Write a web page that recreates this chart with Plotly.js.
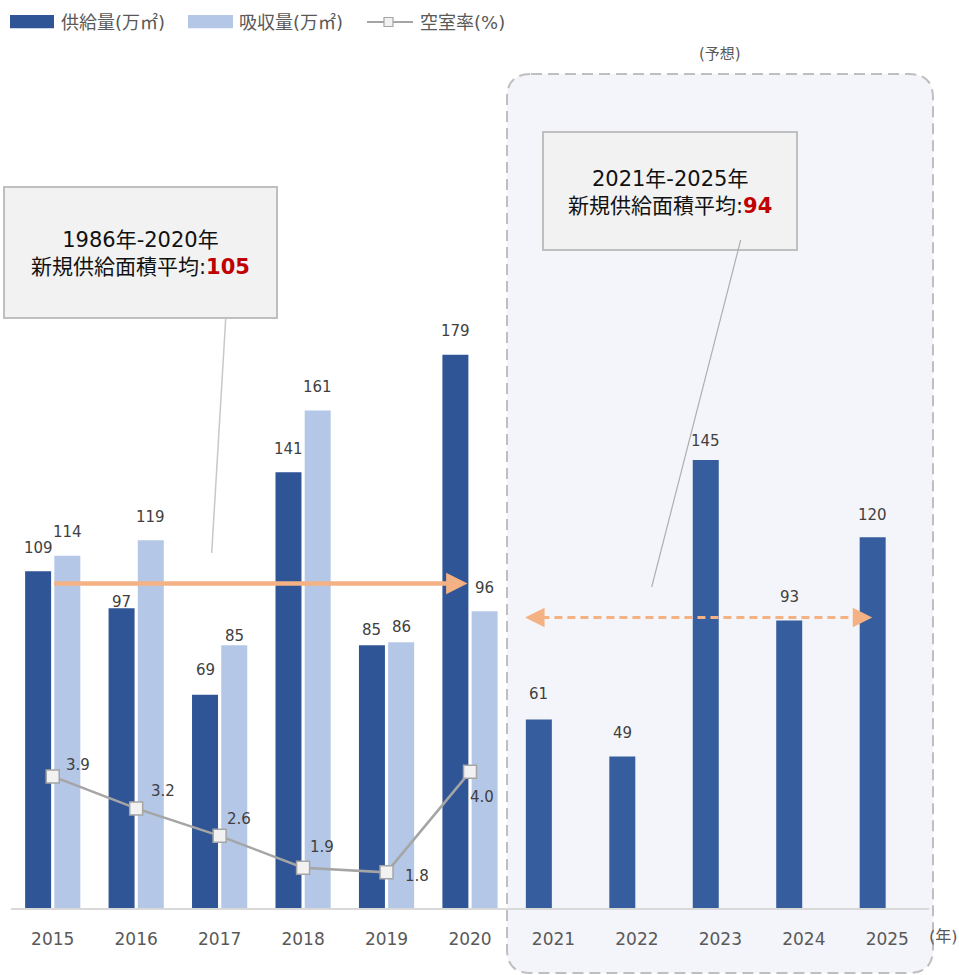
<!DOCTYPE html>
<html>
<head>
<meta charset="utf-8">
<script src="https://cdn.plot.ly/plotly-3.0.1.min.js"></script>
<style>html,body{margin:0;padding:0;background:#fff;}#chart{width:959px;height:975px;}</style>
</head>
<body>
<div id="chart"></div>
<script>
// ---- data ----
const years = ['2015','2016','2017','2018','2019','2020','2021','2022','2023','2024','2025'];
const supply = [109, 97, 69, 141, 85, 179, 61, 49, 145, 93, 120];
const absorption = [114, 119, 85, 161, 86, 96, null, null, null, null, null];
const vacancyYears = ['2015','2016','2017','2018','2019','2020'];
const vacancy = [3.9, 3.2, 2.6, 1.9, 1.8, 4.0];
const avgPast = 105;
const avgFuture = 94;
const legendLabels = ['供給量(万㎡)', '吸収量(万㎡)', '空室率(%)'];
const calloutPast = ['1986年-2020年', '新規供給面積平均:', '105'];
const calloutFuture = ['2021年-2025年', '新規供給面積平均:', '94'];

// ---- styling / layout helpers ----
const FONT = "'DejaVu Sans', 'Noto Sans CJK JP', sans-serif";
const W = 959, H = 975;
const L = 11, R = 929, T = 60, B = 908;
const fx = px => (px - L) / (R - L);
const fy = py => (B - py) / (B - T);
const idx = years.map((_, i) => i);
const vIdx = vacancyYears.map(y => years.indexOf(y));
const pastCount = 6;
const supplyColors = supply.map((_, i) => i < pastCount ? '#2F5597' : '#365D9D');
// label placement offsets (pixels above bar top)
const supplyLabelLift = [23, 6, 25, 23, 15, 24, 25, 24, 19, 24, 22];
const absorptionLabelLift = [24, 23, 9, 23, 15, 23];

const traces = [
  {type: 'bar', name: legendLabels[0], x: idx, y: supply, marker: {color: supplyColors}, hoverinfo: 'skip'},
  {type: 'bar', name: legendLabels[1], x: idx, y: absorption, marker: {color: '#B4C7E7'}, hoverinfo: 'skip'},
  {type: 'scatter', name: legendLabels[2], x: vIdx, y: vacancy, yaxis: 'y2', mode: 'lines+markers',
   line: {color: '#A5A5A5', width: 2.5},
   marker: {symbol: 'square', size: 13, color: '#F2F2F2', line: {color: '#A5A5A5', width: 1.5}}, hoverinfo: 'skip'}
];

function roundRect(x0, y0, x1, y1, r) {
  const X = fx, Y = fy;
  return `M${X(x0 + r)},${Y(y0)} L${X(x1 - r)},${Y(y0)} Q${X(x1)},${Y(y0)} ${X(x1)},${Y(y0 + r)} ` +
         `L${X(x1)},${Y(y1 - r)} Q${X(x1)},${Y(y1)} ${X(x1 - r)},${Y(y1)} ` +
         `L${X(x0 + r)},${Y(y1)} Q${X(x0)},${Y(y1)} ${X(x0)},${Y(y1 - r)} ` +
         `L${X(x0)},${Y(y0 + r)} Q${X(x0)},${Y(y0)} ${X(x0 + r)},${Y(y0)} Z`;
}

const shapes = [
  // forecast region
  {type: 'path', xref: 'paper', yref: 'paper', layer: 'below', path: roundRect(507, 74, 933, 973, 24),
   fillcolor: '#F4F5FA', line: {color: '#BFBFBF', width: 2, dash: '11px,6px'}},
  // callout boxes
  {type: 'rect', xref: 'paper', yref: 'paper', x0: fx(4), x1: fx(277), y0: fy(187), y1: fy(318),
   fillcolor: '#F2F2F2', line: {color: '#BFBFBF', width: 2}},
  {type: 'rect', xref: 'paper', yref: 'paper', x0: fx(543), x1: fx(797), y0: fy(132), y1: fy(250),
   fillcolor: '#F2F2F2', line: {color: '#BFBFBF', width: 2}},
  // connectors
  {type: 'line', xref: 'paper', yref: 'paper', x0: fx(225.7), y0: fy(319), x1: fx(211.7), y1: fy(553),
   line: {color: '#C8C8C8', width: 1.5}},
  {type: 'line', xref: 'paper', yref: 'paper', x0: fx(740.7), y0: fy(240), x1: fx(651.7), y1: fy(587),
   line: {color: '#AFAFAF', width: 1.2}},
  // dashed future average line
  {type: 'line', xref: 'x', yref: 'y', x0: 5.70, x1: 9.78, y0: avgFuture, y1: avgFuture,
   line: {color: '#F4B183', width: 3, dash: '8px,5px'}},
  // custom legend
  {type: 'rect', xref: 'paper', yref: 'paper', x0: fx(10), x1: fx(54), y0: fy(15), y1: fy(28.3),
   fillcolor: '#2F5597', line: {width: 0}},
  {type: 'rect', xref: 'paper', yref: 'paper', x0: fx(188), x1: fx(233), y0: fy(15), y1: fy(28.3),
   fillcolor: '#B4C7E7', line: {width: 0}},
  {type: 'line', xref: 'paper', yref: 'paper', x0: fx(367), x1: fx(413), y0: fy(22), y1: fy(22),
   line: {color: '#A5A5A5', width: 2}},
  {type: 'rect', xref: 'paper', yref: 'paper', x0: fx(384), x1: fx(393), y0: fy(17.5), y1: fy(26.5),
   fillcolor: '#F2F2F2', line: {color: '#A5A5A5', width: 1.2}}
];

const annotations = [];
// legend texts
[[59, legendLabels[0]], [237, legendLabels[1]], [418, legendLabels[2]]].forEach(([px, t]) => {
  annotations.push({xref: 'paper', yref: 'paper', x: fx(px), y: fy(22), text: t, showarrow: false,
    xanchor: 'left', yanchor: 'middle', font: {family: FONT, size: 18, color: '#595959'}});
});
// bar value labels
const slot = 14.6;
supply.forEach((v, i) => {
  annotations.push({x: i, y: v, xref: 'x', yref: 'y', text: String(v), showarrow: false,
    xanchor: 'center', xshift: -slot, yshift: supplyLabelLift[i], yanchor: 'middle',
    font: {family: FONT, size: 15, color: '#404040'}});
});
absorption.forEach((v, i) => {
  if (v == null) return;
  annotations.push({x: i, y: v, xref: 'x', yref: 'y', text: String(v), showarrow: false,
    xanchor: 'center', xshift: slot, yshift: absorptionLabelLift[i], yanchor: 'middle',
    font: {family: FONT, size: 15, color: '#404040'}});
});
// vacancy labels
const vacShift = [[25, 11], [27, 17], [19, 17], [19, 21], [30, -4], [12, -25]];
vacancy.forEach((v, i) => {
  annotations.push({x: vIdx[i], y: v, xref: 'x', yref: 'y2', text: v.toFixed(1), showarrow: false,
    xanchor: 'center', yanchor: 'middle',
    xshift: vacShift[i][0], yshift: vacShift[i][1], font: {family: FONT, size: 15, color: '#404040'}});
});
// solid past-average arrow
annotations.push({x: pastCount - 1 - 0.03, y: avgPast, ax: 0, ay: avgPast, xref: 'x', yref: 'y', axref: 'x', ayref: 'y',
  showarrow: true, arrowhead: 2, arrowsize: 0.95, arrowwidth: 4.5, arrowcolor: '#F4B183', text: ''});
// dashed future-average arrow heads
annotations.push({x: 5.66, y: avgFuture, ax: 5.80, ay: avgFuture, xref: 'x', yref: 'y', axref: 'x', ayref: 'y',
  showarrow: true, arrowhead: 2, arrowsize: 1.3, arrowwidth: 3, arrowcolor: '#F4B183', text: ''});
annotations.push({x: 9.82, y: avgFuture, ax: 9.68, ay: avgFuture, xref: 'x', yref: 'y', axref: 'x', ayref: 'y',
  showarrow: true, arrowhead: 2, arrowsize: 1.3, arrowwidth: 3, arrowcolor: '#F4B183', text: ''});
// callout texts
annotations.push({xref: 'paper', yref: 'paper', x: fx(140.5), y: fy(254), showarrow: false,
  xanchor: 'center', yanchor: 'middle',
  text: `${calloutPast[0]}<br>${calloutPast[1]}<b><span style="color:#C00000">${calloutPast[2]}</span></b>`,
  font: {family: FONT, size: 21, color: '#111111'}, align: 'center'});
annotations.push({xref: 'paper', yref: 'paper', x: fx(670), y: fy(192.5), showarrow: false,
  xanchor: 'center', yanchor: 'middle',
  text: `${calloutFuture[0]}<br>${calloutFuture[1]}<b><span style="color:#C00000">${calloutFuture[2]}</span></b>`,
  font: {family: FONT, size: 21, color: '#111111'}, align: 'center'});
// small texts
annotations.push({xref: 'paper', yref: 'paper', x: fx(720), y: fy(54), text: '(予想)', showarrow: false,
  xanchor: 'center', yanchor: 'middle', font: {family: FONT, size: 15, color: '#595959'}});
annotations.push({xref: 'paper', yref: 'paper', x: fx(943), y: fy(936), text: '(年)', showarrow: false,
  xanchor: 'center', yanchor: 'middle', font: {family: FONT, size: 16, color: '#595959'}});

const layout = {
  width: W, height: H, autosize: false,
  margin: {l: L, r: W - R, t: T, b: H - B, pad: 0},
  paper_bgcolor: '#FFFFFF', plot_bgcolor: 'rgba(0,0,0,0)',
  showlegend: false,
  barmode: 'group', bargap: 0.30, bargroupgap: 0.11,
  font: {family: FONT, color: '#595959'},
  xaxis: {range: [-0.5, 10.5], tickvals: idx, ticktext: years, showgrid: false, zeroline: false,
    showline: true, linecolor: '#D9D9D9', linewidth: 2, ticks: '', ticklabelstandoff: 15,
    tickfont: {family: FONT, size: 17, color: '#595959'}, fixedrange: true},
  yaxis: {range: [0, 274.4], showgrid: false, zeroline: false, showticklabels: false, showline: false, fixedrange: true},
  yaxis2: {range: [1.02, 19.58], overlaying: 'y', side: 'right', showgrid: false, zeroline: false,
    showticklabels: false, showline: false, fixedrange: true},
  shapes: shapes,
  annotations: annotations
};

Plotly.newPlot('chart', traces, layout, {staticPlot: true, displayModeBar: false});
</script>
</body>
</html>
